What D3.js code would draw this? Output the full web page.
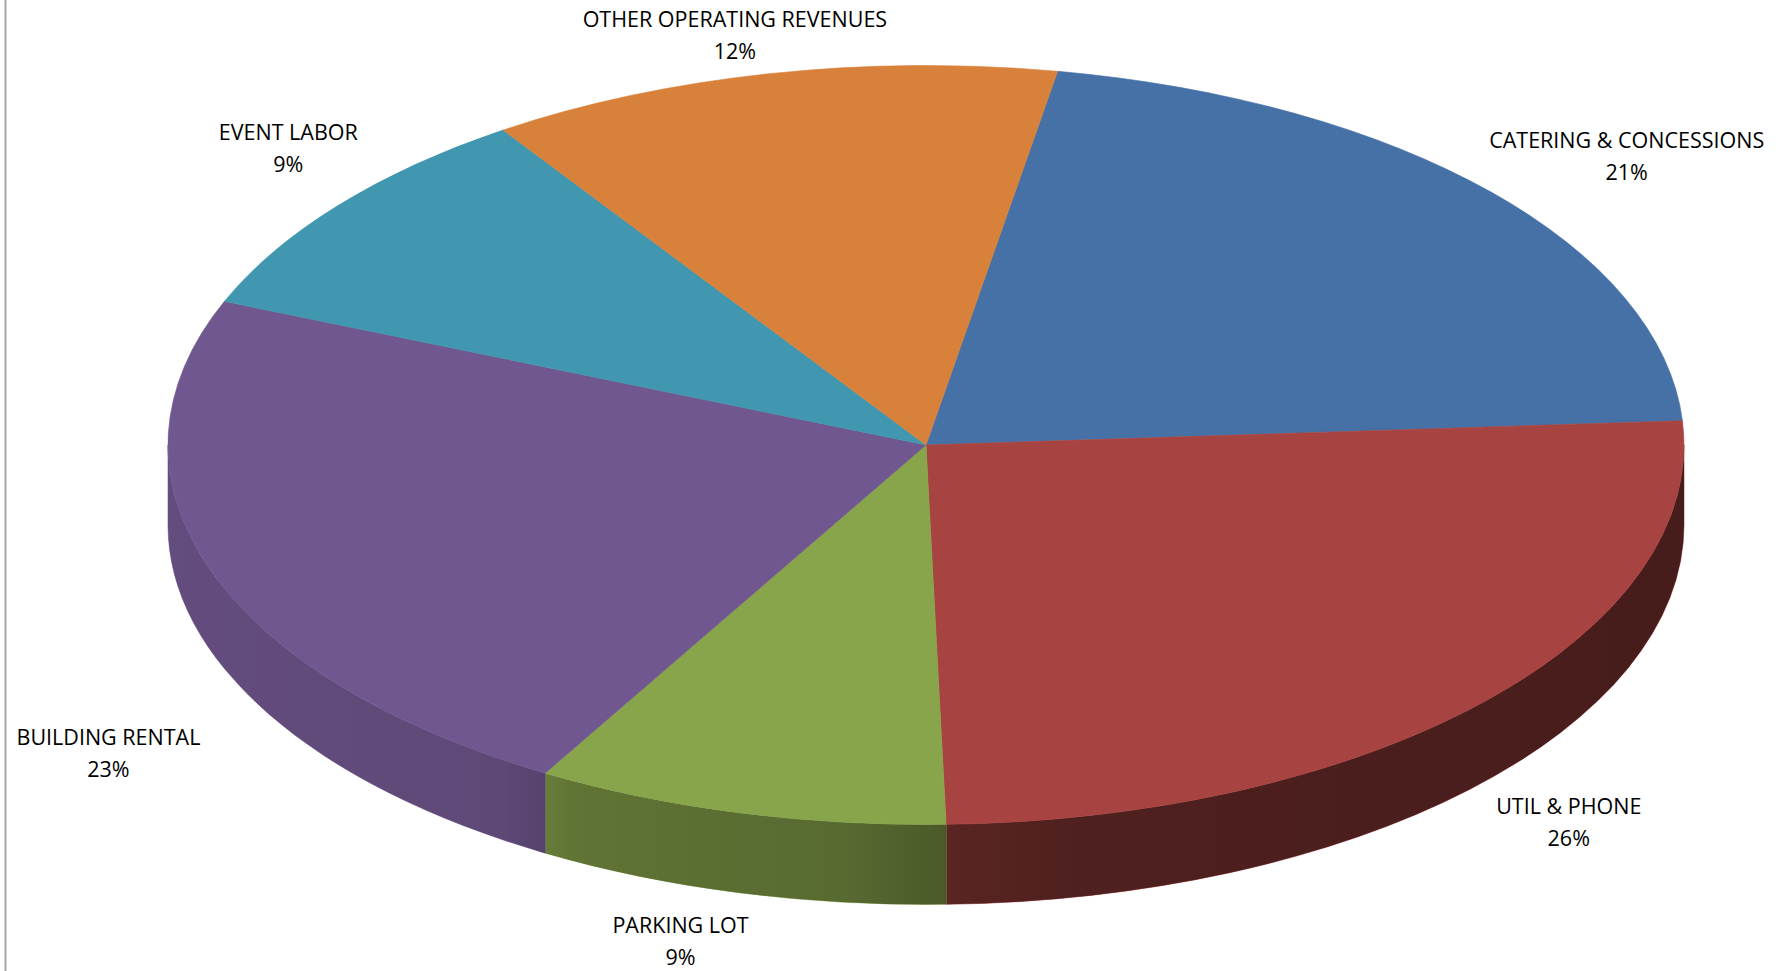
<!DOCTYPE html>
<html>
<head>
<meta charset="utf-8">
<script src="https://cdn.jsdelivr.net/npm/d3@7"></script>
<style>
  html, body { margin: 0; padding: 0; background: #ffffff; }
  svg { display: block; }
  text { font-family: "Open Sans", "Lato", sans-serif; fill: #000; }
</style>
</head>
<body>
<svg id="chart" width="1787" height="971"></svg>
<script>
// ---- data ----
const categories = ["CATERING & CONCESSIONS", "UTIL & PHONE", "PARKING LOT", "BUILDING RENTAL", "EVENT LABOR", "OTHER OPERATING REVENUES"];
const values = [21.2, 25.6, 8.8, 22.8, 9.4, 12.2];
const colors = ["#4571A7", "#A74441", "#88A54B", "#71578F", "#4097AF", "#D8813A"];
// label nudges (layout only), relative to the slice mid-angle point on the rim
const labelNudge = [[136, -36], [83, 121], [-58, 128], [-100, 185], [-50, -58], [-34, -39]];

// ---- layout ----
const W = 1787, H = 971;
const cx = 926, cy = 445, rx = 758, ry = 379.5, depth = 80;
const startDeg = 10;

const svg = d3.select("#chart");

// left border line
svg.append("line")
  .attr("x1", 5.5).attr("x2", 5.5).attr("y1", 0).attr("y2", H)
  .attr("stroke", "#a6a6a6").attr("stroke-width", 2);

const pie = d3.pie().sort(null).value(d => d)
  .startAngle(startDeg * Math.PI / 180)
  .endAngle(startDeg * Math.PI / 180 + 2 * Math.PI);
const arcsData = pie(values);

const pt = (a, dy = 0) => [cx + rx * Math.sin(a), cy - ry * Math.cos(a) + dy];

// shading gradient for the side walls
const defs = svg.append("defs");
const shade = defs.append("linearGradient").attr("id", "shade")
  .attr("gradientUnits", "userSpaceOnUse")
  .attr("x1", cx - rx).attr("x2", cx + rx).attr("y1", 0).attr("y2", 0);
[[0, 0.12], [0.22, 0.17], [0.27, 0.3], [0.45, 0.36], [0.52, 0.47], [0.6, 0.53], [1, 0.58]].forEach(([o, op]) => {
  shade.append("stop").attr("offset", o).attr("stop-color", "#000").attr("stop-opacity", op);
});

// side walls (front half only: angles between PI/2 and 3PI/2)
const sideG = svg.append("g");
arcsData.forEach((d, i) => {
  const spans = [];
  const twoPi = 2 * Math.PI;
  [0, -twoPi].forEach(shift => {
    const s = Math.max(d.startAngle + shift, Math.PI / 2);
    const e = Math.min(d.endAngle + shift, 3 * Math.PI / 2);
    if (e > s) spans.push([s, e]);
  });
  spans.forEach(([s, e]) => {
    const p0 = pt(s), p1 = pt(e), b1 = pt(e, depth), b0 = pt(s, depth);
    const large = (e - s) > Math.PI ? 1 : 0;
    const path = `M${p0[0]},${p0[1]} A${rx},${ry} 0 ${large} 1 ${p1[0]},${p1[1]} L${b1[0]},${b1[1]} A${rx},${ry} 0 ${large} 0 ${b0[0]},${b0[1]} Z`;
    sideG.append("path").attr("d", path).attr("fill", colors[i]).attr("stroke", colors[i]).attr("stroke-width", 0.6);
    sideG.append("path").attr("d", path).attr("fill", "url(#shade)");
  });
});

// top faces via d3.arc on a circle scaled to the ellipse
const arcGen = d3.arc().innerRadius(0).outerRadius(rx);
const topG = svg.append("g").attr("transform", `translate(${cx},${cy}) scale(1,${ry / rx})`);
topG.selectAll("path").data(arcsData).join("path")
  .attr("d", arcGen)
  .attr("fill", (d, i) => colors[i])
  .attr("stroke", (d, i) => colors[i])
  .attr("stroke-width", 0.8);

// labels
const fmt = d3.format(".0%");
const total = d3.sum(values);
const lab = svg.append("g").attr("text-anchor", "middle").style("font-size", "21.5px");
arcsData.forEach((d, i) => {
  const mid = (d.startAngle + d.endAngle) / 2;
  const p = pt(mid);
  const x = p[0] + labelNudge[i][0];
  const y = p[1] + labelNudge[i][1];
  lab.append("text").attr("x", x).attr("y", y - 16 + 8.5).text(categories[i]);
  lab.append("text").attr("x", x).attr("y", y + 16 + 8.5).text(fmt(values[i] / total));
});
</script>
</body>
</html>
